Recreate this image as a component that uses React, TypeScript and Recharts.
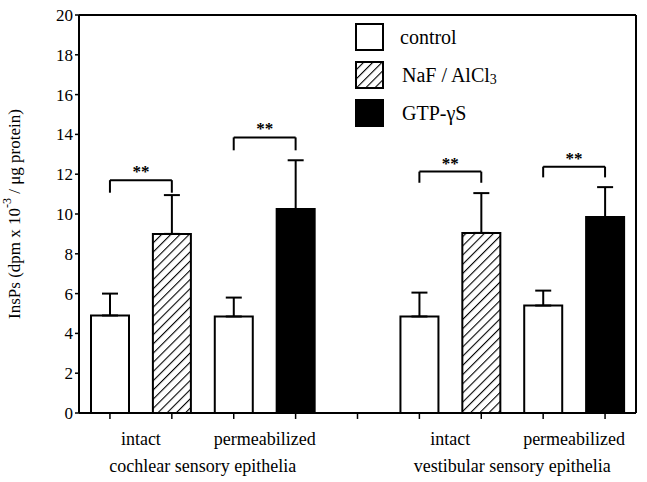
import React from 'react';
import { BarChart, Bar, Cell, XAxis, YAxis, ErrorBar, ReferenceLine, Legend } from 'recharts';

const serif = '"Liberation Serif", "Times New Roman", serif';

// legend / treatments
const treatments = ['control', 'NaF / AlCl3', 'GTP-γS'];
const treatmentFills = ['#ffffff', 'url(#hatch)', '#000000'];

// x labels
const conditionLabels = ['intact', 'permeabilized', 'intact', 'permeabilized'];
const conditionPositions = [1.5, 3.5, 6.5, 8.5];
const tissueLabels = ['cochlear sensory epithelia', 'vestibular sensory epithelia'];
const tissuePositions = [2.5, 7.5];

// bars (slot 5 is the gap between the two tissues)
const barPositions = [1, 2, 3, 4, 6, 7, 8, 9];
const barTreatments = [0, 1, 0, 2, 0, 1, 0, 2];
const barMeans = [4.9, 9.0, 4.85, 10.25, 4.85, 9.05, 5.4, 9.85];
const barErrors = [1.1, 1.95, 0.95, 2.45, 1.2, 2.0, 0.75, 1.5];

// significance brackets
const bracketFrom = [1, 3, 6, 8];
const bracketTo = [2, 4, 7, 9];
const bracketTop = [11.7, 13.85, 12.13, 12.38];
const bracketLeg = [11.07, 13.2, 11.57, 11.84];

const yTicks = [0, 2, 4, 6, 8, 10, 12, 14, 16, 18, 20];
const yMinorTicks = [0, 1, 2, 3, 4, 5, 6, 7, 8, 9, 10, 11, 12, 13, 14, 15, 16, 17, 18, 19, 20];
const xTicks = [1, 2, 3, 4, 5, 6, 7, 8, 9];
const xDomain = [0.5, 9.5];

const data = barPositions.map((x, i) => ({
    x,
    value: barMeans[i],
    err: [0, barErrors[i]],
    kind: barTreatments[i],
}));

const axisStroke = { stroke: '#000', strokeWidth: 2 };

const LegendBox = () => (
    <div style={{ fontFamily: serif, color: '#000' }}>
        {treatments.map((name, i) => (
            <div key={name} style={{ display: 'flex', alignItems: 'center', height: 38 }}>
                <svg width={29} height={28} style={{ display: 'block' }}>
                    <rect x={1} y={1} width={27} height={26} fill={treatmentFills[i]} stroke="#000" strokeWidth={2} />
                </svg>
                <span style={{ marginLeft: i === 0 ? 16 : 18, fontSize: 20 }}>
                    {name === 'NaF / AlCl3' ? (
                        <>NaF / AlCl<span style={{ fontSize: 14, position: 'relative', top: 2 }}>3</span></>
                    ) : name}
                </span>
            </div>
        ))}
    </div>
);

const YLabel = (props: any) => {
    const { x, y, height } = props.viewBox;
    const cx = x + 14;
    const cy = y + height / 2;
    return (
        <text
            x={cx}
            y={cy}
            transform={`rotate(-90 ${cx} ${cy})`}
            textAnchor="middle"
            dominantBaseline="central"
            fontFamily={serif}
            fontSize={17}
            fill="#000"
        >
            InsPs (dpm x 10<tspan dy={-7} fontSize={12}>-3</tspan>
            <tspan dy={7}> / μg protein)</tspan>
        </text>
    );
};

export default function App() {
    return (
        <div style={{ position: 'absolute', left: 0, top: 0, width: 647, height: 482, background: '#fff', fontFamily: serif }}>
            <svg width={0} height={0} style={{ position: 'absolute' }}>
                <defs>
                    <pattern id="hatch" patternUnits="userSpaceOnUse" width={6.5} height={6.5} patternTransform="rotate(45)">
                        <rect width={6.5} height={6.5} fill="#fff" />
                        <line x1={0} y1={0} x2={0} y2={6.5} stroke="#000" strokeWidth={2.2} />
                    </pattern>
                </defs>
            </svg>
            <BarChart
                width={647}
                height={482}
                data={data}
                margin={{ top: 10, right: 7, left: 0, bottom: 0 }}
            >
                <XAxis
                    xAxisId="top"
                    orientation="top"
                    type="number"
                    dataKey="x"
                    domain={xDomain}
                    ticks={xTicks}
                    interval={0}
                    tick={false}
                    tickSize={4}
                    height={5}
                    axisLine={axisStroke}
                    tickLine={{ stroke: '#000', strokeWidth: 1.5 }}
                />
                <XAxis
                    xAxisId="main"
                    type="number"
                    dataKey="x"
                    domain={xDomain}
                    ticks={xTicks}
                    interval={0}
                    tick={false}
                    tickSize={6}
                    height={69}
                    axisLine={axisStroke}
                    tickLine={{ stroke: '#000', strokeWidth: 1.5 }}
                />
                <YAxis
                    yAxisId="left"
                    type="number"
                    domain={[0, 20]}
                    ticks={yTicks}
                    interval={0}
                    width={79}
                    tickSize={4}
                    tickMargin={2}
                    axisLine={axisStroke}
                    tickLine={{ stroke: '#000', strokeWidth: 1.5 }}
                    tick={{ fill: '#000', fontSize: 17, fontFamily: serif, style: { fontFamily: serif } }}
                    label={{ content: YLabel }}
                />
                <YAxis
                    yAxisId="right"
                    orientation="right"
                    type="number"
                    domain={[0, 20]}
                    ticks={yMinorTicks}
                    interval={0}
                    width={4}
                    tickSize={3}
                    tick={false}
                    axisLine={axisStroke}
                    tickLine={{ stroke: '#000', strokeWidth: 2 }}
                />
                <Legend
                    layout="horizontal"
                    verticalAlign="middle"
                    align="center"
                    content={() => <LegendBox />}
                    wrapperStyle={{ left: 355, top: 18, width: 180 }}
                />
                <Bar
                    dataKey="value"
                    xAxisId="main"
                    yAxisId="left"
                    barSize={38}
                    stroke="#000"
                    strokeWidth={2}
                    isAnimationActive={false}
                >
                    {data.map((d) => (
                        <Cell key={d.x} fill={treatmentFills[d.kind]} />
                    ))}
                    <ErrorBar dataKey="err" direction="y" width={8} stroke="#000" strokeWidth={2} isAnimationActive={false} />
                </Bar>
                {/* bottom frame line and its tick marks */}
                <ReferenceLine xAxisId="main" yAxisId="left" y={0} stroke="#000" strokeWidth={2} />
                {xTicks.map((t) => (
                    <ReferenceLine
                        key={`tk${t}`}
                        xAxisId="main"
                        yAxisId="left"
                        segment={[{ x: t, y: 0 }, { x: t, y: -0.3 }]}
                        ifOverflow="visible"
                        stroke="#000"
                        strokeWidth={1.5}
                    />
                ))}
                {conditionPositions.map((p, i) => (
                    <ReferenceLine
                        key={`c${i}`}
                        xAxisId="main"
                        yAxisId="left"
                        segment={[{ x: p - 0.5, y: 0 }, { x: p + 0.5, y: 0 }]}
                        stroke="none"
                        label={{ value: conditionLabels[i], position: 'bottom', offset: 19, fill: '#000', fontSize: 18, fontFamily: serif }}
                    />
                ))}
                {tissuePositions.map((p, i) => (
                    <ReferenceLine
                        key={`t${i}`}
                        xAxisId="main"
                        yAxisId="left"
                        segment={[{ x: p - 0.5, y: 0 }, { x: p + 0.5, y: 0 }]}
                        stroke="none"
                        label={{ value: tissueLabels[i], position: 'bottom', offset: 46, fill: '#000', fontSize: 18, fontFamily: serif }}
                    />
                ))}
                {bracketFrom.map((from, i) => (
                    <ReferenceLine
                        key={`h${i}`}
                        xAxisId="main"
                        yAxisId="left"
                        segment={[{ x: from, y: bracketTop[i] }, { x: bracketTo[i], y: bracketTop[i] }]}
                        stroke="#000"
                        strokeWidth={2}
                        label={{ value: '**', position: 'top', offset: 3, fill: '#000', fontSize: 17, fontFamily: serif, fontWeight: 'bold' }}
                    />
                ))}
                {bracketFrom.map((from, i) => (
                    <ReferenceLine
                        key={`l${i}`}
                        xAxisId="main"
                        yAxisId="left"
                        segment={[{ x: from, y: bracketLeg[i] }, { x: from, y: bracketTop[i] }]}
                        stroke="#000"
                        strokeWidth={2}
                    />
                ))}
                {bracketTo.map((to, i) => (
                    <ReferenceLine
                        key={`r${i}`}
                        xAxisId="main"
                        yAxisId="left"
                        segment={[{ x: to, y: bracketLeg[i] }, { x: to, y: bracketTop[i] }]}
                        stroke="#000"
                        strokeWidth={2}
                    />
                ))}
            </BarChart>
        </div>
    );
}
